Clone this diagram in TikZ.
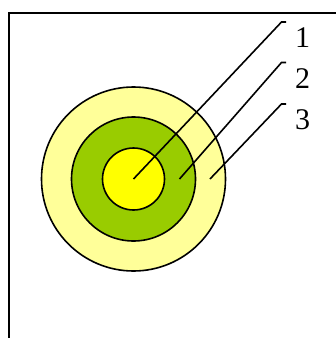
\documentclass[tikz,border=0pt]{standalone}
\usepackage{fontspec}
\setmainfont{Liberation Serif}
\begin{document}
\begin{tikzpicture}[x=1pt,y=-1pt,
  ring/.style={circle,draw=black,line width=1.6pt,inner sep=0pt},
  leader/.style={draw=black,line width=1.6pt},
  numlabel/.style={anchor=base west,inner sep=0pt,font=\fontsize{30}{31}\selectfont}]
\useasboundingbox (0,0) rectangle (336,338);
\definecolor{outerc}{HTML}{FFFF99}
\definecolor{midc}{HTML}{99CC00}
\definecolor{innerc}{HTML}{FFFF00}
% frame
\draw[line width=1.9pt] (9,338) -- (9,13) -- (337,13);
% rings
\node[ring,fill=outerc,minimum size=184pt] (outer) at (133.5,179) {};
\node[ring,fill=midc,minimum size=124pt] (mid) at (133.5,179) {};
\node[ring,fill=innerc,minimum size=62pt] (inner) at (133.5,179) {};
% leader anchor points
\coordinate (p1) at (133.5,179);
\coordinate (p2) at (179.5,179);
\coordinate (p3) at (210,179);
\coordinate (k1) at (281.5,22);
\coordinate (k2) at (281.5,62.5);
\coordinate (k3) at (281.5,104);
\coordinate (e1) at (286,22);
\coordinate (e2) at (286,62.5);
\coordinate (e3) at (286,104);
% labels
\node[numlabel] (l1) at (295,47) {1};
\node[numlabel] (l2) at (295,88) {2};
\node[numlabel] (l3) at (295,129) {3};
% leaders
\draw[leader] (p1) -- (k1) -- (e1);
\draw[leader] (p2) -- (k2) -- (e2);
\draw[leader] (p3) -- (k3) -- (e3);
\end{tikzpicture}
\end{document}
